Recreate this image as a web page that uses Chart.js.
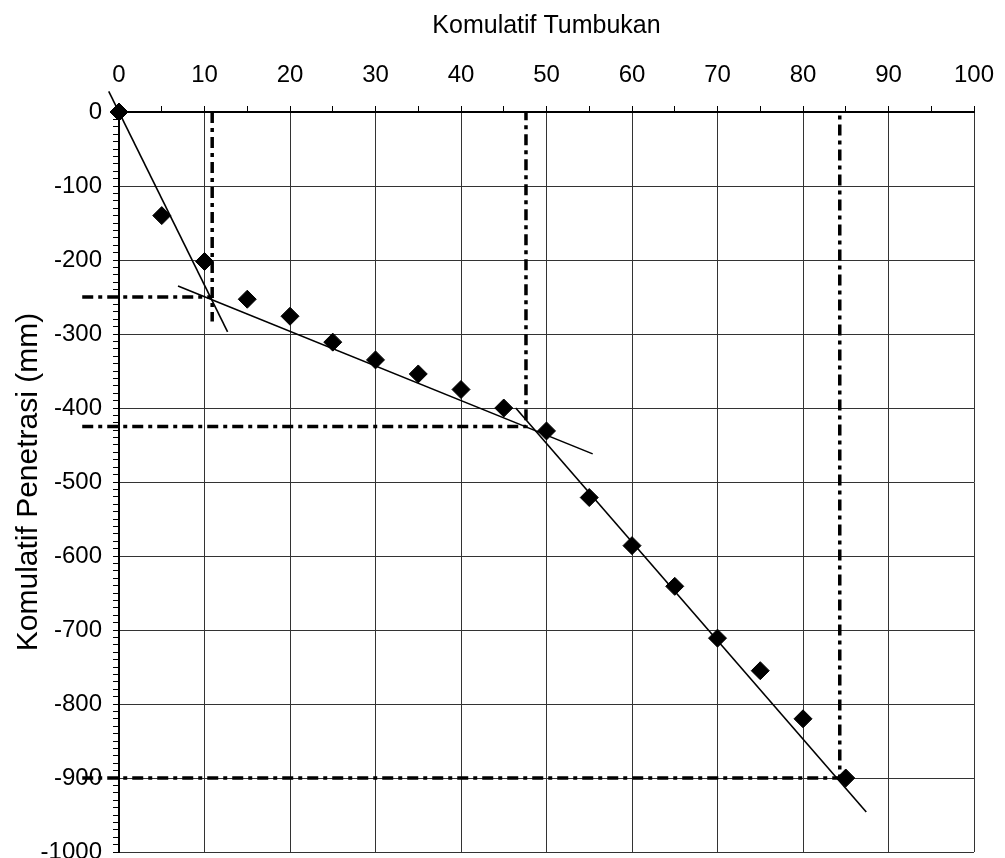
<!DOCTYPE html>
<html>
<head>
<meta charset="utf-8">
<script src="https://cdn.jsdelivr.net/npm/chart.js@4/dist/chart.umd.min.js"></script>
<style>
  body { margin: 0; background: #fff; overflow: hidden; }
</style>
</head>
<body>
<canvas id="dcp" width="1005" height="858"></canvas>
<script>
// data pengujian DCP
var tumbukan = [0, 5, 10, 15, 20, 25, 30, 35, 40, 45, 50, 55, 60, 65, 70, 75, 80, 85];
var penetrasi = [0, -140, -202, -253, -276, -311, -335, -354, -375, -400, -431, -521, -586, -641, -711, -755, -820, -900];

// garis kecenderungan (trend)
var garis1X = [-1.2, 12.7], garis1Y = [28, -297];
var garis2X = [6.9, 55.4], garis2Y = [-235, -462];
var garis3X = [46.4, 87.4], garis3Y = [-400, -946];

// garis bantu titik belok
var bantuH1X = [-4.3, 10.9], bantuH1Y = [-250, -250];
var bantuV1X = [10.9, 10.9], bantuV1Y = [0, -283];
var bantu2X = [-4.3, 47.6, 47.6], bantu2Y = [-425, -425, 0];
var bantu3X = [-4.3, 84.3, 84.3], bantu3Y = [-900, -900, 0];

function pts(xs, ys) {
    return xs.map(function (x, i) { return { x: x, y: ys[i] }; });
}

function garis(xs, ys) {
    return {
        data: pts(xs, ys),
        showLine: true,
        borderColor: '#000',
        borderWidth: 1.6,
        pointRadius: 0,
        clip: false
    };
}

function bantu(xs, ys) {
    return {
        data: pts(xs, ys),
        showLine: true,
        borderColor: '#000',
        borderWidth: 3.5,
        borderDash: [11, 5, 4, 5],
        pointRadius: 0,
        clip: false
    };
}

Chart.defaults.font.family = "'Liberation Sans', Arial, sans-serif";
Chart.defaults.color = '#000';
// titik boleh keluar area grafik, jangan tambah padding untuk itu
Chart.ScatterController.prototype.getMaxOverflow = function () { return 0; };

var ctx = document.getElementById('dcp');
var myChart = new Chart(ctx, {
    type: 'scatter',
    data: {
        datasets: [
            {
                data: pts(tumbukan, penetrasi),
                pointStyle: 'rectRot',
                pointRadius: 9,
                pointHoverRadius: 9,
                backgroundColor: '#000',
                borderColor: '#000',
                clip: false
            },
            garis(garis1X, garis1Y),
            garis(garis2X, garis2Y),
            garis(garis3X, garis3Y),
            bantu(bantuH1X, bantuH1Y),
            bantu(bantuV1X, bantuV1Y),
            bantu(bantu2X, bantu2Y),
            bantu(bantu3X, bantu3Y)
        ]
    },
    options: {
        responsive: false,
        animation: false,
        layout: { padding: { left: 0, right: 31, top: 0, bottom: 6 } },
        plugins: {
            legend: { display: false },
            tooltip: { enabled: false }
        },
        scales: {
            x: {
                type: 'linear',
                position: 'top',
                min: 0,
                max: 100,
                afterFit: function (scale) {
                    scale.height = 112;
                    scale.paddingLeft = 0;
                    scale.paddingRight = 0;
                },
                ticks: {
                    stepSize: 5,
                    autoSkip: false,
                    maxRotation: 0,
                    padding: 16,
                    font: { size: 24 },
                    callback: function (v) { return Math.round(v) % 10 === 0 ? v : ''; }
                },
                grid: {
                    drawTicks: true,
                    tickLength: 6,
                    tickColor: '#000',
                    lineWidth: 1,
                    color: function (c) {
                        return Math.round(c.tick.value) % 10 === 0 ? '#333' : 'rgba(0,0,0,0)';
                    }
                },
                border: { color: '#000', width: 2 },
                title: {
                    display: true,
                    text: 'Komulatif Tumbukan',
                    font: { size: 25 },
                    padding: { top: 11, bottom: 0 }
                }
            },
            y: {
                type: 'linear',
                min: -1000,
                max: 0,
                afterFit: function (scale) {
                    scale.width = 119;
                    scale.paddingTop = 0;
                    scale.paddingBottom = 0;
                },
                ticks: {
                    stepSize: 10,
                    autoSkip: false,
                    padding: 11,
                    font: { size: 24 },
                    callback: function (v) { return Math.round(v) % 100 === 0 ? v : ''; }
                },
                grid: {
                    drawTicks: true,
                    tickLength: 6,
                    tickColor: '#000',
                    lineWidth: 1,
                    color: function (c) {
                        return Math.round(c.tick.value) % 100 === 0 ? '#333' : 'rgba(0,0,0,0)';
                    }
                },
                border: { color: '#000', width: 2 },
                title: {
                    display: true,
                    text: 'Komulatif Penetrasi (mm)',
                    font: { size: 30 },
                    padding: { top: 11, bottom: 0 }
                }
            }
        }
    }
});
</script>
</body>
</html>
